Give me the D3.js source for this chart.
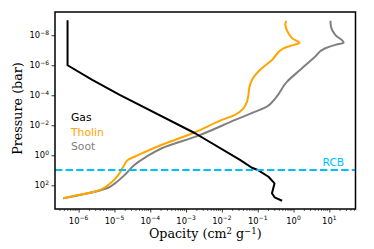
<!DOCTYPE html>
<html><head><meta charset="utf-8">
<script src="https://cdn.jsdelivr.net/npm/d3@7"></script>
<style>body{margin:0;background:#fff}svg{display:block}</style>
</head><body><svg id="c" width="374" height="249"></svg>
<script>
// ---- data (opacity cm^2/g, pressure bar) ----
const gasOpacity  = [4.9e-7, 4.9e-7, 2.4e-6, 1.4e-5, 1.78e-3, 0.032, 0.069, 0.105, 0.20, 0.295, 0.25, 0.295, 0.48];
const gasPressure = [1e-9,   1e-6,   9.5e-6, 9.5e-5, 3.4e-2,  2.0,   6.8,   10,    27,   74,    340,  630,   1070];

const tholinOpacity  = [0.62, 0.59, 0.72, 1.0, 1.47, 1.0, 0.52, 0.25, 0.117, 0.069, 0.059, 0.055, 0.050, 0.040, 0.0235, 0.010, 1.78e-3, 2.1e-4, 4.7e-5, 2.4e-5, 1.77e-5, 1.29e-5, 8.3e-6, 2.8e-6, 1.35e-6, 3.7e-7];
const tholinPressure = [1.07e-9, 2.0e-9, 7.4e-9, 1.85e-8, 3.1e-8, 4.4e-8, 7.4e-8, 4.5e-7, 2.0e-6, 9.5e-6, 2.7e-5, 9.5e-5, 2.7e-4, 7.4e-4, 2.0e-3, 4.4e-3, 2.9e-2, 0.20, 0.95, 2.0, 5.8, 20, 63, 270, 380, 740];

const sootOpacity  = [10.7, 11.1, 14.6, 25, 14.6, 7.7, 4.0, 1.55, 0.66, 0.31, 0.18, 0.085, 0.0235, 2.2e-3, 2.1e-4, 7.9e-5, 3.6e-5, 1.95e-5, 1.03e-5, 6.7e-6, 1.35e-6, 3.7e-7];
const sootPressure = [1.07e-9, 2.7e-9, 9.5e-9, 3.1e-8, 4.4e-8, 7.4e-8, 2.7e-7, 2.0e-6, 1.23e-5, 1.6e-4, 5.7e-4, 1.23e-3, 4.4e-3, 4.9e-2, 0.34, 1.23, 4.4, 20, 74, 145, 400, 740];

const rcbPressure = 9.5;
const seriesNames = ["Gas", "Tholin", "Soot"];
const xTickExps = [-6, -5, -4, -3, -2, -1, 0, 1];
const yTickExps = [-8, -6, -4, -2, 0, 2];

// ---- layout ----
const L = 55, R = 355.5, T = 12, B = 209;
const colors = {Gas: "#000000", Tholin: "#FFA500", Soot: "#808080"};
const svg = d3.select("#c");

const x = d3.scaleLog().domain([Math.pow(10, -6.66), Math.pow(10, 1.73)]).range([L, R]);
const y = d3.scaleLog().domain([Math.pow(10, -9.55), Math.pow(10, 3.58)]).range([T, B]);

const series = [
  {name: "Gas", xs: gasOpacity, ys: gasPressure, curve: d3.curveLinear},
  {name: "Tholin", xs: tholinOpacity, ys: tholinPressure, curve: d3.curveMonotoneY},
  {name: "Soot", xs: sootOpacity, ys: sootPressure, curve: d3.curveMonotoneY}
];

const g = svg.append("g");
g.append("clipPath").attr("id", "clip").append("rect")
  .attr("x", L).attr("y", T).attr("width", R - L).attr("height", B - T);

const plot = g.append("g").attr("clip-path", "url(#clip)");
[series[2], series[1], series[0]].forEach(s => {
  const pts = s.xs.map((v, i) => [v, s.ys[i]]);
  plot.append("path")
    .attr("d", d3.line().x(d => x(d[0])).y(d => y(d[1])).curve(s.curve)(pts))
    .attr("fill", "none").attr("stroke", colors[s.name])
    .attr("stroke-width", 2).attr("stroke-linejoin", "round").attr("stroke-linecap", "butt");
});

// RCB line
plot.append("line")
  .attr("x1", L).attr("x2", R).attr("y1", y(rcbPressure)).attr("y2", y(rcbPressure))
  .attr("stroke", "#00BFFF").attr("stroke-width", 2).attr("stroke-dasharray", "7.4,3.2");
g.append("text").attr("x", 322.5).attr("y", y(rcbPressure) - 3.5)
  .attr("font-family", "DejaVu Sans").attr("font-size", 10.7).attr("fill", "#00BFFF").text("RCB");

// legend texts
seriesNames.forEach((n, i) => {
  g.append("text").attr("x", 71).attr("y", 121.3 + i * 14.4)
    .attr("font-family", "DejaVu Sans").attr("font-size", 10.8).attr("fill", colors[n]).text(n);
});

// axes
const xAxis = d3.axisBottom(x).tickValues(xTickExps.map(e => Math.pow(10, e)))
  .tickSize(3.5).tickSizeOuter(0).tickFormat("");
const gx = g.append("g").attr("transform", `translate(0,${B})`).call(xAxis);
gx.select(".domain").remove();
gx.selectAll(".tick line").attr("stroke", "#000").attr("stroke-width", 0.8);

const minor = [];
for (let e = -7; e <= 1; e++) for (let k = 2; k <= 9; k++) {
  const v = k * Math.pow(10, e);
  if (v >= x.domain()[0] && v <= x.domain()[1]) minor.push(v);
}
g.append("g").selectAll("line").data(minor).join("line")
  .attr("x1", d => x(d)).attr("x2", d => x(d)).attr("y1", B).attr("y2", B + 2)
  .attr("stroke", "#000").attr("stroke-width", 0.6);

xTickExps.forEach(e => {
  const t = g.append("text").attr("x", x(Math.pow(10, e))).attr("y", B + 14.5)
    .attr("text-anchor", "middle").attr("font-family", "DejaVu Sans").attr("font-size", 8.4).attr("fill", "#000");
  t.append("tspan").text("10");
  t.append("tspan").attr("dy", -3.6).attr("font-size", 6).text(String(e).replace("-", "\u2212"));
});

const yAxis = d3.axisLeft(y).tickValues(yTickExps.map(e => Math.pow(10, e)))
  .tickSize(3.5).tickSizeOuter(0).tickFormat("");
const gy = g.append("g").attr("transform", `translate(${L},0)`).call(yAxis);
gy.select(".domain").remove();
gy.selectAll(".tick line").attr("stroke", "#000").attr("stroke-width", 0.8);

yTickExps.forEach(e => {
  const t = g.append("text").attr("x", L - 6).attr("y", y(Math.pow(10, e)) + 3)
    .attr("text-anchor", "end").attr("font-family", "DejaVu Sans").attr("font-size", 8.4).attr("fill", "#000");
  t.append("tspan").text("10");
  t.append("tspan").attr("dy", -3.6).attr("font-size", 6).text(String(e).replace("-", "\u2212"));
});

// frame
g.append("rect").attr("x", L).attr("y", T).attr("width", R - L).attr("height", B - T)
  .attr("fill", "none").attr("stroke", "#000").attr("stroke-width", 1.5);

// axis labels
const xl = g.append("text").attr("x", (L + R) / 2).attr("y", 238).attr("text-anchor", "middle")
  .attr("font-family", "DejaVu Serif").attr("font-size", 12.7).attr("fill", "#000");
xl.append("tspan").text("Opacity (cm");
xl.append("tspan").attr("dy", -4.5).attr("font-size", 8.5).text("2");
xl.append("tspan").attr("dy", 4.5).text(" g");
xl.append("tspan").attr("dy", -4.5).attr("font-size", 8.5).text("\u22121");
xl.append("tspan").attr("dy", 4.5).text(")");

g.append("text").attr("transform", `translate(21.5,${(T + B) / 2 - 2}) rotate(-90)`)
  .attr("text-anchor", "middle").attr("font-family", "DejaVu Serif").attr("font-size", 12.7)
  .attr("fill", "#000").text("Pressure (bar)");
</script></body></html>
